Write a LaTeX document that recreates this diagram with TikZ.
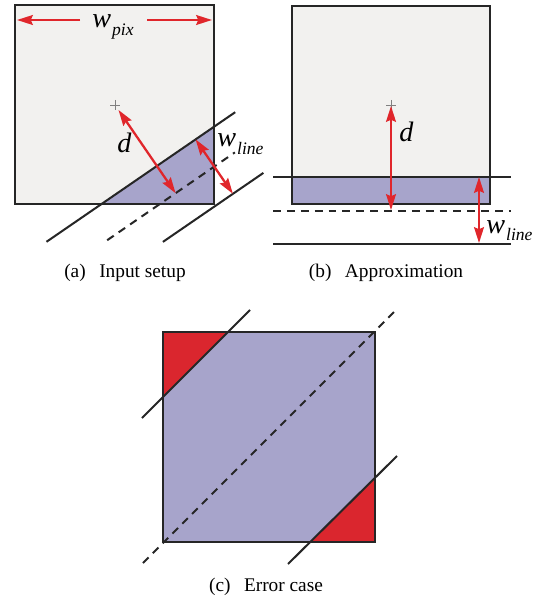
\documentclass[tikz,border=0pt]{standalone}
\usepackage{fontspec}
\setmainfont{Liberation Serif}
\usetikzlibrary{arrows.meta}
\definecolor{pixgray}{HTML}{F2F1EF}
\definecolor{linefill}{HTML}{A7A4CB}
\definecolor{errred}{HTML}{DA262E}
\definecolor{arrowred}{HTML}{E0262B}
\definecolor{edgegray}{HTML}{262626}
\newcommand{\wsub}[1]{\textit{w}\kern0.6pt\raisebox{-0.6ex}{\fontsize{10}{11}\selectfont\textit{#1}}}
\begin{document}
\begin{tikzpicture}[x=0.02cm, y=-0.02cm,
		pixel/.style={draw=edgegray, line width=1.4pt},
		edge/.style={draw=edgegray, line width=1.15pt},
		centre/.style={edge, dash pattern=on 4.5pt off 3.4pt},
		dim/.style={draw=arrowred, line width=1.3pt, -{Stealth[length=9pt, width=5.6pt, inset=1.2pt]}},
		dimboth/.style={dim, {Stealth[length=9pt, width=5.6pt, inset=1.2pt]}-{Stealth[length=9pt, width=5.6pt, inset=1.2pt]}},
		lab/.style={inner sep=0pt, anchor=base west, font=\fontsize{16}{18}\selectfont},
		capt/.style={inner sep=0pt, anchor=base, font=\fontsize{11}{13}\selectfont}]
			\useasboundingbox (0,0) rectangle (548,601);

			% (a) input setup
			\coordinate (ca) at (115,105);
			\fill[pixgray] (15,5) rectangle (214,204);
			\fill[linefill] (101.6,204) -- (214,204) -- (214,126.8) -- cycle;
			\draw[pixel] (15,5) rectangle (214,204);
			\draw[gray, line width=0.5pt] (ca) +(-5,0) -- +(5,0) (ca) +(0,-5) -- +(0,5);

			\coordinate (a1s) at (46.5,241.8);
			\coordinate (a1e) at (235.2,112.2);
			\coordinate (acs) at (107.2,240.2);
			\coordinate (ace) at (234.9,152.4);
			\coordinate (a2s) at (162.9,241.9);
			\coordinate (a2e) at (263.4,172.9);
			\draw[edge] (a1s) -- (a1e);
			\draw[centre] (acs) -- (ace);
			\draw[edge] (a2s) -- (a2e);

			\coordinate (wp1) at (80,20);
			\coordinate (wp2) at (17,20);
			\coordinate (wp3) at (147,20);
			\coordinate (wp4) at (212,20);
			\draw[dim] (wp1) to (wp2);
			\draw[dim] (wp3) to (wp4);
			\node[lab] (wpix) at (92,28) {\wsub{pix}};

			\coordinate (da1) at (118.5,110);
			\coordinate (da2) at (175.6,193.2);
			\draw[dimboth] (da1) to (da2);
			\node[lab] (da) at (117,153) {\textit{d}};

			\coordinate (wa1) at (195.6,139.4);
			\coordinate (wa2) at (232.9,193.8);
			\draw[dimboth] (wa1) to (wa2);
			\node[lab] (wla) at (217,147) {\wsub{line}};

			\node[capt] (capa) at (125,277) {(a)\hspace{0.7em}Input setup};

			% (b) approximation
			\coordinate (cb) at (391,105);
			\fill[pixgray] (292,6) rectangle (490,204);
			\fill[linefill] (292,177) rectangle (490,204);
			\draw[pixel] (292,6) rectangle (490,204);
			\draw[gray, line width=0.5pt] (cb) +(-5,0) -- +(5,0) (cb) +(0,-5) -- +(0,5);

			\coordinate (b1s) at (273,177);
			\coordinate (b1e) at (511,177);
			\coordinate (bcs) at (273,211);
			\coordinate (bce) at (511,211);
			\coordinate (b2s) at (273,244);
			\coordinate (b2e) at (511,244);
			\draw[edge] (b1s) -- (b1e);
			\draw[centre] (bcs) -- (bce);
			\draw[edge] (b2s) -- (b2e);

			\coordinate (db1) at (391,106);
			\coordinate (db2) at (391,210);
			\draw[dimboth] (db1) to (db2);
			\node[lab] (db) at (399,142) {\textit{d}};

			\coordinate (wb1) at (479,177);
			\coordinate (wb2) at (479,243);
			\draw[dimboth] (wb1) to (wb2);
			\node[lab] (wlb) at (486,233) {\wsub{line}};

			\node[capt] (capb) at (386,277) {(b)\hspace{0.7em}Approximation};

			% (c) error case
			\fill[linefill] (163,332) rectangle (375,542);
			\fill[errred] (163,332) -- (227,332) -- (163,396) -- cycle;
			\fill[errred] (375,542) -- (310,542) -- (375,478) -- cycle;
			\draw[pixel] (163,332) rectangle (375,542);

			\coordinate (c1s) at (142,418);
			\coordinate (c1e) at (250,310);
			\coordinate (ccs) at (143,563);
			\coordinate (cce) at (396,310);
			\coordinate (c2s) at (288,564);
			\coordinate (c2e) at (397,456);
			\draw[edge] (c1s) -- (c1e);
			\draw[centre] (ccs) -- (cce);
			\draw[edge] (c2s) -- (c2e);

			\node[capt] (capc) at (266,591) {(c)\hspace{0.7em}Error case};
		\end{tikzpicture}
\end{document}
